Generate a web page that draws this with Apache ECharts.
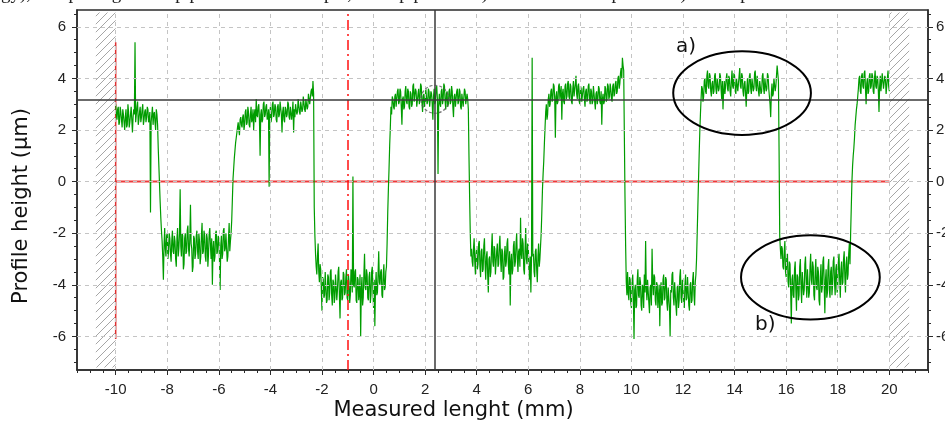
<!DOCTYPE html>
<html>
<head>
<meta charset="utf-8">
<script src="https://cdn.jsdelivr.net/npm/echarts@6/dist/echarts.min.js"></script>
<style>
html,body{margin:0;padding:0;background:#fff;}
#chart{width:945px;height:423px;}
</style>
</head>
<body>
<div id="chart"></div>
<script>
// ---------------- data ----------------
const STEP = 0.025; // mm between profile samples
const segStarts = [-10.00, -8.20, -5.10, -2.25, 0.80, 3.85, 6.85, 9.85, 12.80, 15.85, 18.80];
const seg01 = [3.0,2.6,2.4,2.8,2.9,2.2,2.3,2.9,2.7,2.4,
               2.1,2.8,2.6,2.3,2.0,2.5,2.8,2.1,2.2,3.0,
               2.7,2.1,2.3,2.6,2.9,2.4,1.9,2.5,2.8,2.6,
               5.4,2.3,2.6,2.9,3.1,2.2,2.4,2.7,2.9,2.3,
               2.5,2.8,3.0,2.2,2.4,2.7,2.8,2.3,2.5,2.9,
               2.8,2.3,2.4,2.7,-1.2,2.3,2.6,2.9,2.2,2.6,
               2.7,2.3,2.0,2.8,2.6,2.2,1.3,0.6,-0.1,-0.8,
               -1.4,-1.9];
const seg02 = [-2.3,-2.9,-3.8,-2.5,-1.8,-2.6,-2.9,-2.1,-2.0,-3.0,
               -2.7,-2.0,-2.2,-2.8,-3.1,-2.3,-1.9,-2.7,-2.8,-2.1,
               -2.3,-3.0,-3.3,-2.2,-1.8,-2.9,-2.6,-2.0,-0.3,-2.5,
               -2.9,-2.0,-2.1,-3.4,-3.2,-2.2,-2.0,-2.8,-2.7,-1.9,
               -1.7,-2.6,-2.9,-2.2,-0.9,-2.4,-2.6,-3.5,-3.3,-2.1,
               -2.2,-3.0,-2.8,-2.1,-1.9,-2.7,-3.0,-2.0,-2.3,-3.2,
               -2.9,-2.1,-1.6,-2.8,-2.7,-1.9,-2.1,-2.9,-3.1,-2.0,
               -2.2,-3.3,-2.8,-2.0,-1.8,-2.5,-3.0,-2.2,-4.0,-2.6,
               -2.3,-3.1,-2.9,-2.0,-1.9,-2.8,-2.7,-2.1,-2.2,-3.0,
               -4.2,-2.5,-2.1,-3.0,-2.8,-1.9,-1.8,-2.7,-2.6,-2.0,
               -2.0,-3.1,-2.9,-2.2,-1.6,-2.7,-2.3,-2.0,-1.5,-0.7,
               0.1,0.5,0.9,1.2,1.5,1.7,1.9,2.1,2.3,2.0,
               1.8,2.4,2.5,2.2];
const seg03 = [2.1,2.5,2.6,2.0,2.2,2.7,2.8,2.2,2.3,2.9,
               2.7,2.2,2.1,2.6,2.9,2.3,2.4,2.8,2.0,2.6,
               2.8,2.3,3.2,2.6,2.5,2.9,3.0,2.4,1.0,2.6,
               2.8,2.3,2.4,3.0,3.1,2.5,2.6,2.9,3.0,2.4,
               2.5,2.8,-0.2,2.6,2.9,2.3,2.5,3.0,3.1,2.5,
               2.6,3.0,2.9,2.4,2.3,2.9,3.0,2.5,2.6,3.1,
               3.1,2.6,1.9,2.7,2.9,2.4,2.3,2.9,2.8,2.5,
               2.6,3.1,3.0,2.5,2.4,2.9,2.9,2.4,2.7,3.1,
               1.9,2.8,2.5,3.0,3.0,2.6,2.7,3.2,3.2,2.7,
               2.6,3.1,3.1,2.7,2.8,3.3,3.3,2.8,2.7,3.2,
               3.2,2.8,2.9,3.4,3.4,3.0,3.0,3.5,3.6,3.3,
               3.9,3.4,-1.0,-2.1];
const seg04 = [-2.8,-3.3,-3.6,-2.9,-2.4,-3.5,-3.9,-3.2,-3.4,-4.2,
               -5.0,-3.7,-3.8,-4.5,-4.4,-3.5,-3.5,-4.7,-4.6,-3.6,
               -3.7,-4.6,-4.3,-3.5,-3.4,-4.4,-4.8,-3.8,-3.9,-4.7,
               -4.5,-3.6,-3.6,-4.6,-4.2,-3.5,-3.3,-4.4,-5.3,-3.9,
               -3.8,-4.6,-4.5,-3.5,-3.6,-4.4,-4.3,-3.7,-3.4,-4.5,
               -4.6,-3.6,-3.9,-4.7,-4.4,-3.4,-3.5,-4.3,0.2,-4.0,
               -4.1,-3.5,-3.4,-4.6,-4.7,-3.7,-3.8,-4.6,-4.3,-3.6,
               -6.0,-4.2,-3.7,-4.8,-4.5,-3.6,-2.8,-4.1,-4.2,-3.4,
               -3.6,-4.5,-4.6,-3.7,-3.5,-4.7,-4.4,-3.5,-3.3,-4.2,
               -4.9,-3.8,-5.6,-4.1,-3.5,-4.4,-4.3,-3.6,-2.7,-3.9,
               -4.0,-3.5,-3.4,-4.4,-4.5,-3.6,-3.2,-4.2,-4.1,-3.5,
               -3.3,-2.4,-1.2,-0.3,0.5,1.4,2.1,2.9,2.6,3.3,
               3.2,2.9];
const seg05 = [2.8,3.3,3.4,2.9,2.9,3.5,3.6,3.0,3.1,3.6,
               3.5,2.9,2.2,3.2,3.3,2.8,2.9,3.5,3.7,3.1,
               3.0,3.6,3.5,2.9,2.8,3.5,3.4,2.9,3.0,3.7,
               3.8,3.1,3.1,3.6,3.5,2.9,2.9,3.4,3.6,3.0,
               3.2,3.8,3.7,3.1,2.7,3.3,3.4,2.9,3.0,3.6,
               3.6,3.0,3.1,3.6,3.5,2.9,2.9,3.5,3.4,3.0,
               2.4,3.3,3.6,3.0,3.1,3.6,3.7,3.2,0.3,3.0,
               3.4,3.0,2.9,3.5,3.6,3.0,3.2,3.8,3.7,3.1,
               2.8,3.4,3.5,2.9,3.0,3.5,3.6,3.0,3.1,3.7,
               3.5,2.9,2.5,3.3,3.4,2.9,2.9,3.5,3.6,3.0,
               3.1,3.6,3.5,2.9,2.8,3.4,3.4,2.9,2.9,3.6,
               3.5,3.0,3.0,3.4,3.2,2.8,1.0,-0.6,-2.0,-2.9,
               -2.6,-3.1];
const seg06 = [-3.3,-2.6,-2.2,-3.1,-3.6,-2.8,-2.5,-3.4,-3.2,-2.4,
               -2.3,-3.3,-3.7,-2.7,-2.6,-3.5,-3.4,-2.5,-2.2,-3.2,
               -3.8,-2.9,-2.7,-3.6,-4.3,-3.0,-2.9,-3.7,-3.5,-2.6,
               -2.0,-3.1,-3.3,-2.5,-2.6,-3.6,-3.6,-2.7,-2.4,-3.3,
               -3.2,-2.5,-2.1,-3.0,-3.5,-2.6,-2.7,-3.8,-3.7,-2.8,
               -2.5,-3.3,-3.1,-2.4,-2.2,-3.2,-3.6,-2.7,-4.8,-3.1,
               -2.8,-3.6,-3.4,-2.5,-2.3,-3.3,-3.1,-2.4,-2.0,-3.0,
               -3.5,-2.7,-2.6,-3.3,-1.4,-2.8,-3.0,-2.2,-2.4,-3.4,
               -3.6,-2.6,-1.8,-3.0,-3.2,-2.4,-2.5,-3.5,-3.8,-2.9,
               -4.3,-3.0,4.8,-2.9,-2.8,-3.5,-3.7,-2.7,-2.6,-3.4,
               -3.9,-2.9,-2.4,-3.3,-3.0,-2.5,-2.0,-1.2,-0.3,0.3,
               0.8,1.5,2.1,2.7,3.0,2.4,2.6,3.2,3.4,2.9];
const seg07 = [3.0,3.5,3.6,3.1,3.2,3.8,3.7,3.2,1.7,3.3,
               3.5,3.0,3.1,3.7,3.8,3.2,3.2,3.7,2.4,3.4,
               3.6,3.1,3.0,3.7,3.8,3.2,3.3,3.8,3.9,3.3,
               3.2,3.8,3.7,3.1,3.0,3.6,3.9,3.3,3.3,3.8,
               4.1,3.4,3.2,3.7,3.8,3.1,3.0,3.7,3.6,3.1,
               3.1,3.6,3.7,3.2,2.9,3.5,3.6,3.1,3.2,3.7,
               3.8,3.2,3.0,3.6,3.5,3.0,3.1,3.7,3.7,3.1,
               2.8,3.4,3.5,3.0,3.2,3.7,3.6,3.1,3.0,3.5,
               2.2,3.2,3.4,3.0,3.1,3.7,3.6,3.1,3.2,3.8,
               3.7,3.2,3.3,3.8,3.6,3.2,3.1,3.7,3.8,3.3,
               3.4,3.8,3.9,3.4,3.5,4.0,4.1,3.6,3.8,4.2,
               4.4,4.0,4.8,4.5,4.3,1.8,-0.6,-2.5,-3.9,-4.4];
const seg08 = [-3.5,-4.3,-4.6,-3.7,-3.8,-4.7,-4.9,-3.9,-3.6,-4.5,
               -6.1,-4.2,-4.0,-4.9,-4.8,-3.8,-3.4,-4.4,-4.5,-3.7,
               -3.9,-4.8,-5.0,-4.0,-4.1,-4.9,-3.6,-4.3,-2.3,-4.1,
               -4.6,-3.8,-3.8,-4.7,-5.1,-4.1,-4.0,-4.8,-2.6,-3.9,
               -4.4,-3.6,-3.7,-4.6,-4.8,-3.9,-4.0,-4.9,-4.9,-4.0,
               -5.6,-4.2,-3.9,-4.8,-4.7,-3.8,-3.6,-4.6,-4.5,-3.7,
               -3.8,-4.7,-5.0,-4.1,-4.1,-4.9,-6.0,-4.2,-4.3,-3.6,
               -3.5,-4.5,-4.8,-3.9,-3.9,-4.8,-5.2,-4.1,-4.0,-4.9,
               -4.6,-3.7,-3.4,-4.5,-4.7,-3.8,-3.8,-4.6,-4.9,-4.0,
               -3.6,-4.6,-4.5,-3.7,-3.7,-4.8,-5.0,-4.0,-3.9,-4.7,
               -4.6,-3.8,-3.5,-4.4,-4.8,-3.9,-3.6,-3.0,-2.0,-1.0,
               0.0,1.0,1.9,2.6,3.2,3.7,3.6,3.1];
const seg09 = [3.3,3.9,4.0,3.5,3.4,4.1,4.3,3.7,3.6,4.2,
               4.1,3.5,3.3,3.8,3.9,3.4,3.5,4.1,4.2,3.6,
               3.4,4.0,4.0,3.5,3.6,4.2,4.1,3.6,3.2,3.9,
               2.8,3.5,3.9,3.4,3.4,4.0,4.2,3.6,3.5,4.1,
               4.0,3.5,3.3,3.9,4.3,3.7,3.6,4.2,4.1,3.5,
               3.4,4.0,4.0,3.5,3.5,4.1,4.4,3.7,3.6,4.2,
               4.1,3.5,3.3,3.8,3.9,3.4,2.9,3.6,4.0,3.4,
               3.5,4.1,4.2,3.6,3.4,4.0,4.0,3.5,3.6,4.2,
               4.3,3.7,3.5,4.1,4.1,3.5,3.3,3.9,3.9,3.4,
               3.5,4.1,4.2,3.6,3.4,4.0,4.0,3.5,3.6,4.2,
               4.1,3.6,3.3,3.0,2.5,3.4,3.8,3.3,3.4,4.0,
               4.0,3.5,3.7,4.1,4.5,4.2,3.9,1.2,-2.1,-2.6,
               -3.0,-2.5];
const seg10 = [-2.6,-3.3,-3.4,-2.7,-2.3,-3.5,-3.7,-2.9,-2.8,-3.9,
               -4.1,-3.1,-3.2,-4.3,-5.5,-3.8,-3.6,-4.4,-4.5,-3.4,
               -3.1,-4.2,-5.0,-3.6,-3.7,-4.6,-4.4,-3.3,-3.0,-4.1,
               -4.7,-3.5,-3.5,-4.4,-4.2,-3.2,-2.9,-3.9,-4.5,-3.4,
               -3.4,-4.5,-4.3,-3.3,-2.8,-3.8,-4.0,-3.1,-3.3,-4.4,
               -4.6,-3.5,-3.0,-4.1,-4.2,-3.3,-3.5,-4.6,-4.8,-3.7,
               -3.2,-4.3,-4.1,-3.1,-2.9,-4.0,-5.1,-3.8,-3.4,-4.5,
               -4.3,-3.3,-3.0,-4.2,-4.5,-3.5,-3.3,-4.4,-4.0,-3.1,
               -2.9,-3.9,-4.4,-3.4,-3.2,-4.3,-4.1,-3.1,-2.8,-3.8,
               -4.5,-3.4,-3.1,-4.0,-3.9,-3.0,-2.7,-3.7,-4.3,-3.2,
               -2.9,-3.8,-3.6,-2.8,-2.4,-3.2,-2.0,-1.0,0.0,0.6,
               1.0,1.3,1.7,2.2,2.5,2.8,3.0,3.3];
const seg11 = [3.6,4.0,4.1,3.5,3.4,4.1,4.2,3.7,3.6,4.2,
               4.3,3.6,3.0,3.8,4.0,3.4,3.5,4.1,4.2,3.6,
               3.7,4.2,4.1,3.5,3.4,4.0,4.3,3.7,3.6,4.1,
               4.0,3.5,2.7,3.7,4.1,3.5,3.5,4.2,4.2,3.6,
               3.6,4.1,4.0,3.4,3.4,4.0,4.3,3.7,3.5];
const segValues = [seg01,seg02,seg03,seg04,seg05,seg06,seg07,seg08,seg09,seg10,seg11];

// axis ticks
const xMajor = [-10,-8,-6,-4,-2,0,2,4,6,8,10,12,14,16,18,20];
const yMajor = [-6,-4,-2,0,2,4,6];

// reference / cursor lines
const zeroLineX = [-10, 20];          // red baseline at 0 µm
const startLineY = [5.4, -6.1];      // red vertical at -10 mm
const startX = -10;
const refLineX = -1.0;               // red dash-dot marker
const cursorX = 2.38, cursorY = 3.19;// black cursor cross
const hatchLeft = [-10.77, -10], hatchRight = [20, 20.77], hatchY = [6.55, -7.2];

// annotations
const ellipseA = {cx: 14.29, cy: 3.43, rx: 2.67, ry: 1.62};
const ellipseB = {cx: 16.94, cy: -3.71, rx: 2.69, ry: 1.63};
const labelA = {text: 'a)', x: 11.73, y: 5.21};
const labelB = {text: 'b)', x: 14.79, y: -5.56};

// ---------------- build ----------------
const X_MIN = -11.5, X_MAX = 21.5, Y_MIN = -7.3, Y_MAX = 6.65;
const xMinor = []; for (let k = -23; k <= 43; k++) xMinor.push(k / 2);
const yMinor = []; for (let k = -14; k <= 13; k++) yMinor.push(k / 2);

const profile = [];
segStarts.forEach((x0, s) => {
  segValues[s].forEach((v, i) => profile.push([+(x0 + i * STEP).toFixed(3), v]));
});

function hatchPattern() {
  const c = document.createElement('canvas');
  c.width = 8; c.height = 8;
  const g = c.getContext('2d');
  g.strokeStyle = '#a6a6a6'; g.lineWidth = 1;
  g.beginPath(); g.moveTo(-1, 9); g.lineTo(9, -1); g.stroke();
  return c;
}

const AXIS_COLOR = '#2b2b2b';
const TICK_FONT = 'Liberation Sans';
const lbl = {fontSize: 15, color: '#222', fontFamily: TICK_FONT};

function xAxisDef(major) {
  return {
    type: 'value', min: X_MIN, max: X_MAX, position: 'bottom',
    axisLine: {show: major, onZero: false, lineStyle: {color: AXIS_COLOR, width: 1.5}},
    axisTick: {show: true, inside: false, length: major ? 5 : 3,
      customValues: major ? xMajor : xMinor, lineStyle: {color: AXIS_COLOR, width: 1}},
    axisLabel: major ? Object.assign({show: true, customValues: xMajor, margin: 12}, lbl) : {show: false},
    splitLine: {show: false}
  };
}
function yAxisDef(pos, major) {
  return {
    type: 'value', min: Y_MIN, max: Y_MAX, position: pos,
    axisLine: {show: major, onZero: false, lineStyle: {color: AXIS_COLOR, width: 1.5}},
    axisTick: {show: true, inside: false, length: major ? 5 : 3,
      customValues: major ? yMajor : yMinor, lineStyle: {color: AXIS_COLOR, width: 1}},
    axisLabel: major ? Object.assign({show: true, customValues: yMajor, margin: pos === 'left' ? 11 : 8}, lbl) : {show: false},
    splitLine: {show: false}
  };
}

const chart = echarts.init(document.getElementById('chart'), null, {renderer: 'canvas'});
const option = {
  animation: false,
  backgroundColor: '#fff',
  grid: {left: 77, top: 10, right: 17, bottom: 53, containLabel: false, outerBoundsMode: 'none',
    show: true, borderColor: AXIS_COLOR, borderWidth: 1.5, backgroundColor: 'transparent'},
  xAxis: [xAxisDef(true), xAxisDef(false)],
  yAxis: [yAxisDef('left', true), yAxisDef('left', false), yAxisDef('right', true), yAxisDef('right', false)],
  series: [
    { // dashed grid lines
      type: 'line', data: [], z: 1, silent: true,
      markLine: {silent: true, symbol: ['none', 'none'], label: {show: false}, animation: false,
        lineStyle: {color: '#c4c4c4', type: [4, 4], width: 1},
        emphasis: {disabled: true},
        data: xMajor.map(v => ({xAxis: v})).concat(yMajor.map(v => ({yAxis: v})))}
    },
    { // hatched zones outside the measured range
      type: 'line', data: [], z: 1, silent: true,
      markArea: {silent: true, animation: false,
        itemStyle: {color: {image: hatchPattern(), repeat: 'repeat'}},
        data: [
          [{coord: [hatchLeft[0], hatchY[0]]}, {coord: [hatchLeft[1], hatchY[1]]}],
          [{coord: [hatchRight[0], hatchY[0]]}, {coord: [hatchRight[1], hatchY[1]]}]
        ]}
    },
    { // red baseline
      type: 'line', z: 2, silent: true, showSymbol: false, symbol: 'none',
      data: zeroLineX.map(x => [x, 0]),
      lineStyle: {color: '#ee3a3a', width: 2}
    },
    { // red start line
      type: 'line', z: 2, silent: true, showSymbol: false, symbol: 'none',
      data: startLineY.map(y => [startX, y]),
      lineStyle: {color: '#e03030', width: 1.5}
    },
    { // red dash-dot reference
      type: 'line', data: [], z: 2, silent: true,
      markLine: {silent: true, symbol: ['none', 'none'], label: {show: false}, animation: false,
        lineStyle: {color: '#ff1010', type: [10, 4, 2, 4], width: 1.5},
        emphasis: {disabled: true},
        data: [{xAxis: refLineX}]}
    },
    { // profile
      name: 'profile', type: 'line', z: 3, showSymbol: false, symbol: 'none', silent: true,
      data: profile, clip: true,
      lineStyle: {color: '#009c00', width: 1.2}
    },
    { // cursor cross
      type: 'line', data: [], z: 4, silent: true,
      markLine: {silent: true, symbol: ['none', 'none'], label: {show: false}, animation: false,
        lineStyle: {color: '#3a3a3a', type: 'solid', width: 1.5},
        emphasis: {disabled: true},
        data: [{xAxis: cursorX}, {yAxis: cursorY}]}
    },
    { // cursor circle
      type: 'scatter', z: 5, silent: true, symbol: 'circle', symbolSize: 28,
      data: [[cursorX, cursorY]],
      itemStyle: {color: 'rgba(0,0,0,0)', borderColor: '#555', borderWidth: 1.2, borderType: [3, 2]}
    }
  ]
};
chart.setOption(option);

const PROFILE_IDX = 5;
const toPx = (x, y) => chart.convertToPixel({seriesIndex: PROFILE_IDX}, [x, y]);
function ellipseEl(e) {
  const c = toPx(e.cx, e.cy);
  const rxP = Math.abs(toPx(e.cx + e.rx, e.cy)[0] - c[0]);
  const ryP = Math.abs(toPx(e.cx, e.cy + e.ry)[1] - c[1]);
  return {type: 'ellipse', silent: true, z: 10,
    shape: {cx: c[0], cy: c[1], rx: rxP, ry: ryP},
    style: {fill: 'none', stroke: '#000', lineWidth: 2}};
}
function labelEl(l) {
  const p = toPx(l.x, l.y);
  return {type: 'text', silent: true, z: 10, x: p[0], y: p[1],
    style: {text: l.text, font: '20px "DejaVu Sans"', fill: '#111', textAlign: 'left', textVerticalAlign: 'middle'}};
}
const gridRect = chart.getModel().getComponent('grid', 0).coordinateSystem.getRect();
chart.setOption({
  graphic: [
    ellipseEl(ellipseA), ellipseEl(ellipseB), labelEl(labelA), labelEl(labelB),
    {type: 'text', silent: true, x: gridRect.x + gridRect.width / 2 - 49, y: 411,
      style: {text: 'Measured lenght (mm)', font: '21px "DejaVu Sans"', fill: '#111', textAlign: 'center', textVerticalAlign: 'middle'}},
    {type: 'text', silent: true, x: 22, y: gridRect.y + gridRect.height / 2 + 16, rotation: Math.PI / 2,
      style: {text: 'Profile height (µm)', font: '21px "DejaVu Sans"', fill: '#111', textAlign: 'center', textVerticalAlign: 'middle'}},
    {type: 'text', silent: true, x: 1, y: 4,
      style: {text: 'gy), completing the step profile of the sample, the top plateau a) and the bottom plateau b) of the profile', font: '19px "Liberation Serif"', fill: '#222', textAlign: 'left', textVerticalAlign: 'bottom'}}
  ]
});
</script>
</body>
</html>
